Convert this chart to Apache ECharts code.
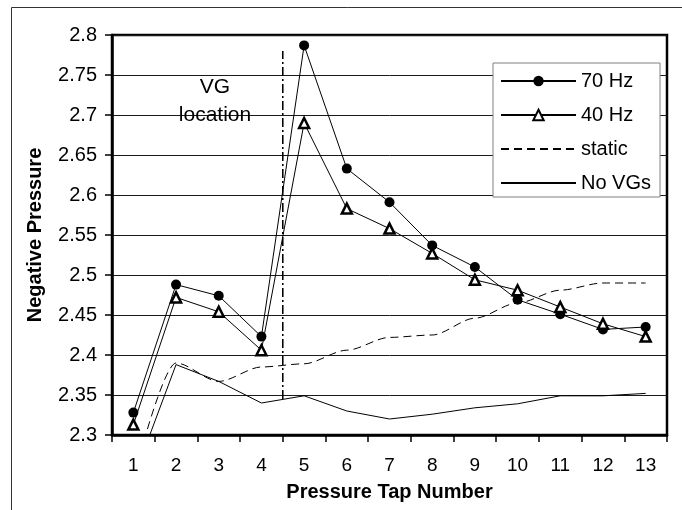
<!DOCTYPE html>
<html>
<head>
<meta charset="utf-8">
<script src="https://cdn.jsdelivr.net/npm/echarts@6/dist/echarts.min.js"></script>
<style>
html,body{margin:0;padding:0;background:#fff;}
#chart{width:682px;height:510px;}
</style>
</head>
<body>
<div id="chart"></div>
<script>
// ---- data ----
var taps = ['1','2','3','4','5','6','7','8','9','10','11','12','13'];
var hz70   = [2.328, 2.488, 2.474, 2.423, 2.787, 2.633, 2.591, 2.537, 2.510, 2.469, 2.451, 2.432, 2.435];
var hz40   = [2.313, 2.472, 2.454, 2.406, 2.690, 2.583, 2.558, 2.527, 2.494, 2.481, 2.460, 2.439, 2.423];
var stat   = [2.245, 2.390, 2.367, 2.385, 2.389, 2.406, 2.422, 2.425, 2.446, 2.465, 2.481, 2.490, 2.490];
var noVGs  = [2.245, 2.388, 2.367, 2.340, 2.349, 2.330, 2.320, 2.326, 2.334, 2.339, 2.349, 2.349, 2.352];
var vgLine = [[4.5, 2.345], [4.5, 2.780]];   // between tap 4 and tap 5
var seriesNames = ['70 Hz', '40 Hz', 'static', 'No VGs'];
var yMin = 2.3, yMax = 2.8, yStep = 0.05;
var xTitle = 'Pressure Tap Number';
var yTitle = 'Negative Pressure';
var vgText = 'VG\nlocation';

var FONT = '"Liberation Sans", Arial, sans-serif';
var chart = echarts.init(document.getElementById('chart'), null, {renderer: 'canvas'});

var noMark = {opacity: 0, color: 'rgba(0,0,0,0)', borderWidth: 0};

var option = {
  animation: false,
  backgroundColor: '#fff',
  textStyle: {fontFamily: FONT, color: '#000'},
  grid: {
    left: 112, top: 35, right: 15, bottom: 75,
    show: true, borderColor: '#000', borderWidth: 2.5, backgroundColor: 'transparent'
  },
  legend: {
    orient: 'vertical',
    left: 493, top: 63,
    padding: [8, 9, 4, 7],
    itemWidth: 75, itemHeight: 13, itemGap: 14,
    backgroundColor: '#fff',
    borderColor: '#808080', borderWidth: 1,
    textStyle: {fontFamily: FONT, fontSize: 20, color: '#000', lineHeight: 20},
    data: [
      {name: seriesNames[0]},
      {name: seriesNames[1]},
      {name: seriesNames[2], itemStyle: noMark},
      {name: seriesNames[3], itemStyle: noMark}
    ]
  },
  xAxis: [{
    type: 'category',
    data: taps,
    boundaryGap: true,
    axisLine: {lineStyle: {color: '#000', width: 2.5}},
    axisTick: {show: true, length: 7, lineStyle: {color: '#000', width: 1.5}},
    axisLabel: {fontFamily: FONT, fontSize: 19, color: '#000', margin: 21},
    splitLine: {show: false},
    name: xTitle,
    nameLocation: 'middle',
    nameGap: 47,
    nameTextStyle: {fontFamily: FONT, fontSize: 20, fontWeight: 'bold', color: '#000'}
  }, {
    type: 'value',
    min: 0.5, max: 13.5,
    show: false
  }],
  yAxis: {
    type: 'value',
    min: yMin, max: yMax, interval: yStep,
    axisLine: {show: true, lineStyle: {color: '#000', width: 2.5}},
    axisTick: {show: true, length: 7, lineStyle: {color: '#000', width: 1.5}},
    axisLabel: {
      fontFamily: FONT, fontSize: 20, color: '#000', margin: 15,
      formatter: function (v) { return String(Math.round(v * 100) / 100); }
    },
    splitLine: {show: true, lineStyle: {color: '#1a1a1a', width: 1}},
    name: yTitle,
    nameLocation: 'middle',
    nameGap: 67,
    nameTextStyle: {fontFamily: FONT, fontSize: 20, fontWeight: 'bold', color: '#000'}
  },
  graphic: [
    {
      type: 'rect', silent: true, z: -10,
      shape: {x: 11.5, y: 7.5, width: 800, height: 700},
      style: {fill: 'none', stroke: '#333', lineWidth: 1}
    },
    {
      type: 'text', silent: true, z: 10,
      x: 215, y: 101,
      style: {
        text: vgText, fontFamily: FONT, fontSize: 21, fill: '#000',
        align: 'center', verticalAlign: 'middle', lineHeight: 28
      }
    }
  ],
  series: [
    {
      name: seriesNames[0], type: 'line', data: hz70,
      symbol: 'circle', symbolSize: 10, z: 5,
      lineStyle: {color: '#000', width: 1},
      itemStyle: {color: '#000', borderColor: '#000', borderWidth: 0}
    },
    {
      name: seriesNames[1], type: 'line', data: hz40,
      symbol: 'triangle', symbolSize: 10, z: 5,
      lineStyle: {color: '#000', width: 1},
      itemStyle: {color: '#fff', borderColor: '#000', borderWidth: 2.5}
    },
    {
      name: seriesNames[2], type: 'line', data: stat,
      symbol: 'none', smooth: 0.3, smoothMonotone: 'x', z: 4,
      lineStyle: {color: '#000', width: 1, type: [8, 5]},
      itemStyle: {color: 'rgba(0,0,0,0)', borderWidth: 0}
    },
    {
      name: seriesNames[3], type: 'line', data: noVGs,
      symbol: 'none', z: 4,
      lineStyle: {color: '#000', width: 1},
      itemStyle: {color: 'rgba(0,0,0,0)', borderWidth: 0}
    },
    {
      name: 'VG location', type: 'line', xAxisIndex: 1, data: vgLine,
      symbol: 'none', z: 3, silent: true,
      lineStyle: {color: '#000', width: 1.6, type: [9, 3, 2, 3]}
    }
  ]
};
chart.setOption(option);
</script>
</body>
</html>
